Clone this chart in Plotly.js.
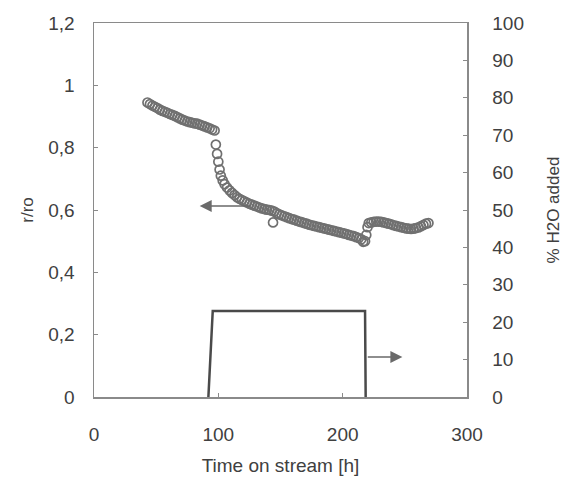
<!DOCTYPE html>
<html>
<head>
<meta charset="utf-8">
<script src="https://cdn.plot.ly/plotly-3.0.1.min.js"></script>
<style>
  html, body { margin: 0; padding: 0; background: #fff; }
  #chart { width: 570px; height: 484px; }
</style>
</head>
<body>
<div id="chart"></div>
<script>
// Relative activity r/ro over time on stream
var timeH = [
  43, 45, 47, 49, 51, 53, 55, 57, 59, 61, 63, 65, 67, 69, 71, 73, 75, 77, 79, 81,
  83, 85, 87, 89, 91, 93, 95, 97,
  98, 99, 100, 101, 102, 103.5, 105, 107, 109, 111, 113,
  115, 117, 119, 121, 123, 125, 127, 129, 131, 133, 135, 137, 139, 141, 143, 144,
  145, 147, 149, 151, 153, 155, 157, 159, 161, 163, 165, 167, 169, 171, 173, 175,
  177, 179, 181, 183, 185, 187, 189, 191, 193, 195, 197, 199, 201, 203, 205, 207,
  209, 211, 213, 215, 216.5, 218, 219, 220, 221,
  223, 225, 227, 229, 231, 233, 235, 237, 239, 241, 243, 245, 247, 249, 251, 253,
  255, 257, 259, 261, 263, 265, 267, 269
];
var ratio = [
  0.945, 0.940, 0.935, 0.931, 0.927, 0.922, 0.918, 0.915, 0.912, 0.908, 0.905, 0.902,
  0.898, 0.894, 0.890, 0.887, 0.884, 0.882, 0.880, 0.878,
  0.877, 0.874, 0.871, 0.868, 0.865, 0.862, 0.858, 0.855,
  0.810, 0.780, 0.755, 0.730, 0.710, 0.695, 0.683, 0.672, 0.663, 0.655, 0.648,
  0.641, 0.636, 0.632, 0.628, 0.624, 0.620, 0.617, 0.614, 0.611, 0.608, 0.605, 0.603,
  0.601, 0.600, 0.598, 0.560,
  0.595, 0.590, 0.586, 0.583, 0.580, 0.577, 0.574, 0.571, 0.569, 0.566, 0.563, 0.561,
  0.558, 0.556, 0.553, 0.551, 0.549, 0.547, 0.545, 0.543, 0.541, 0.539, 0.537, 0.535,
  0.533, 0.531, 0.529, 0.527, 0.525, 0.523, 0.520, 0.518,
  0.516, 0.513, 0.510, 0.506, 0.498, 0.500, 0.520, 0.545, 0.558,
  0.560, 0.562, 0.563, 0.563, 0.562, 0.560, 0.558, 0.556, 0.554, 0.551, 0.549, 0.547,
  0.545, 0.543, 0.541, 0.540, 0.539, 0.540, 0.542, 0.544, 0.548, 0.552, 0.556, 0.558
];

// Water co-feed pulse (% H2O added, right axis); zero elsewhere, on the baseline
var waterTime = [92, 95.5, 218, 218.5];
var waterPct = [0, 23, 23, 0];

var xTicks = [0, 100, 200, 300];
var yTicks = [0, 0.2, 0.4, 0.6, 0.8, 1, 1.2];
var y2Ticks = [0, 10, 20, 30, 40, 50, 60, 70, 80, 90, 100];

var textColor = '#404040';
var axisColor = '#8a8a8a';
var fontFamily = '"Liberation Sans", Arial, sans-serif';

var traces = [
  {
    x: waterTime, y: waterPct, yaxis: 'y2',
    type: 'scatter', mode: 'lines',
    line: { color: '#4a4a4a', width: 2.5 },
    hoverinfo: 'skip', showlegend: false
  },
  {
    x: timeH, y: ratio,
    type: 'scatter', mode: 'markers',
    marker: { symbol: 'circle-open', size: 9, color: '#707070', line: { width: 1.7, color: '#707070' } },
    showlegend: false
  }
];

var layout = {
  width: 570, height: 484,
  margin: { l: 94, r: 103, t: 23, b: 87 },
  paper_bgcolor: '#fff', plot_bgcolor: '#fff',
  separators: ', ',
  font: { family: fontFamily, size: 19, color: textColor },
  showlegend: false,
  xaxis: {
    range: [0, 300], tickvals: xTicks, ticks: 'inside', ticklen: 4, tickcolor: axisColor,
    showline: true, linecolor: axisColor, linewidth: 1.5, mirror: true,
    showgrid: false, zeroline: false, ticklabelstandoff: 20,
    title: { text: 'Time on stream [h]', font: { size: 19, color: textColor }, standoff: 14 }
  },
  yaxis: {
    range: [0, 1.2], tickvals: yTicks, ticks: 'inside', ticklen: 4, tickcolor: axisColor,
    showline: true, linecolor: axisColor, linewidth: 1.5,
    showgrid: false, zeroline: false, ticklabelstandoff: 14,
    title: { text: 'r/ro', font: { size: 17, color: textColor }, standoff: 10 }
  },
  yaxis2: {
    range: [0, 100], tickvals: y2Ticks, overlaying: 'y', side: 'right',
    ticks: 'inside', ticklen: 4, tickcolor: axisColor,
    showline: true, linecolor: axisColor, linewidth: 1.5,
    showgrid: false, zeroline: false, ticklabelstandoff: 20,
    title: { text: '% H2O added', font: { size: 17, color: textColor }, standoff: 24 }
  },
  annotations: [
    {
      x: 85, y: 0.613, xref: 'x', yref: 'y',
      ax: 127, ay: 0.613, axref: 'x', ayref: 'y',
      text: '', showarrow: true, arrowhead: 2, arrowsize: 1.6, arrowwidth: 1.5, arrowcolor: '#6a6a6a'
    },
    {
      x: 248, y: 10.7, xref: 'x', yref: 'y2',
      ax: 219, ay: 10.7, axref: 'x', ayref: 'y2',
      text: '', showarrow: true, arrowhead: 2, arrowsize: 1.6, arrowwidth: 1.5, arrowcolor: '#6a6a6a'
    }
  ]
};

Plotly.newPlot('chart', traces, layout, { staticPlot: true, displayModeBar: false });
</script>
</body>
</html>
